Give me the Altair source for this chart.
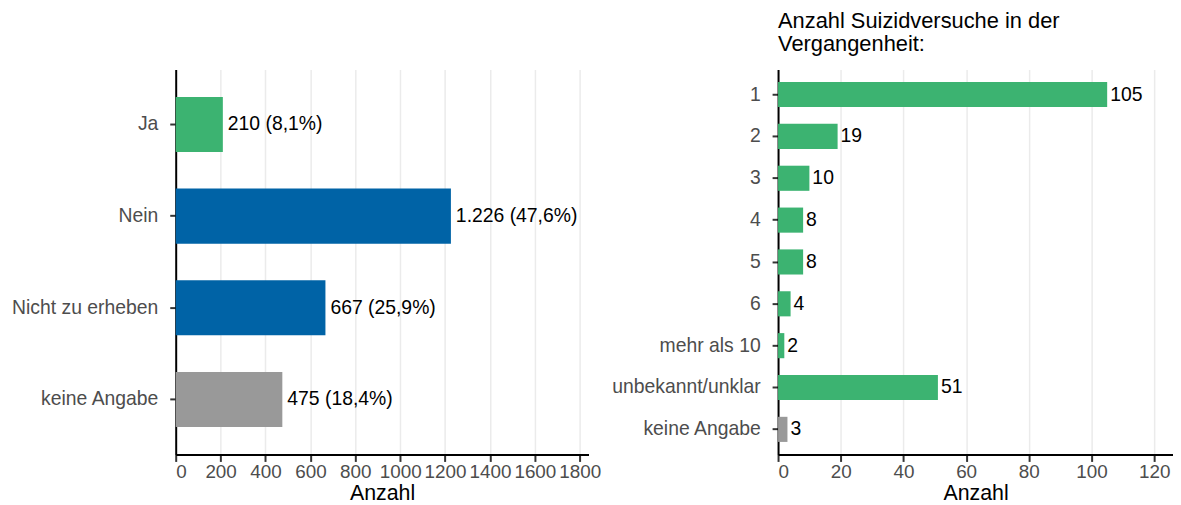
import altair as alt
import pandas as pd

FONT = "Liberation Sans"

left_cats = ["Ja", "Nein", "Nicht zu erheben", "keine Angabe"]
left_vals = [210, 1226, 667, 475]
left_labels = ["210 (8,1%)", "1.226 (47,6%)", "667 (25,9%)", "475 (18,4%)"]
left_groups = ["ja", "nein", "nein", "na"]
left_ticks = [0, 200, 400, 600, 800, 1000, 1200, 1400, 1600, 1800]

right_cats = ["1", "2", "3", "4", "5", "6", "mehr als 10", "unbekannt/unklar", "keine Angabe"]
right_vals = [105, 19, 10, 8, 8, 4, 2, 51, 3]
right_groups = ["ja", "ja", "ja", "ja", "ja", "ja", "ja", "ja", "na"]
right_ticks = [0, 20, 40, 60, 80, 100, 120]

right_title = ["Anzahl Suizidversuche in der", "Vergangenheit:"]

color_scale = alt.Scale(domain=["ja", "nein", "na"], range=["#3CB371", "#0063A6", "#999999"])

df_left = pd.DataFrame({"cat": left_cats, "val": left_vals, "label": left_labels, "grp": left_groups})
df_right = pd.DataFrame({"cat": right_cats, "val": right_vals, "label": [str(v) for v in right_vals], "grp": right_groups})


def panel(df, cats, dmax, ticks, width, dx):
    base = alt.Chart(df).encode(
        y=alt.Y("cat:N", sort=cats,
                scale=alt.Scale(paddingInner=0.4, paddingOuter=0.3),
                axis=alt.Axis(title=None))
    )
    bars = base.mark_bar().encode(
        x=alt.X("val:Q",
                scale=alt.Scale(domain=[0, dmax], nice=False, zero=True),
                axis=alt.Axis(values=ticks, title="Anzahl", grid=True, format="d")),
        color=alt.Color("grp:N", scale=color_scale, legend=None),
    )
    text = base.mark_text(align="left", baseline="middle", dx=dx, fontSize=19.5,
                          font=FONT, color="black").encode(
        x=alt.X("val:Q"), text=alt.Text("label:N"))
    return (bars + text).properties(width=width, height=388)


left = panel(df_left, left_cats, 1839, left_ticks, 416, 5)
right = panel(df_right, right_cats, 126, right_ticks, 398, 3).properties(
    title=alt.TitleParams(right_title, anchor="start", frame="group", fontSize=22,
                          fontWeight="normal", color="black", font=FONT,
                          lineHeight=23, offset=14)
)

chart = alt.hconcat(left, right, spacing=10).properties(
    padding={"left": 3, "top": 0, "right": 0, "bottom": 0}
).configure_axis(
    domainColor="black", domainWidth=2, tickColor="#333333", tickWidth=2,
    labelColor="#4D4D4D", labelFontSize=19.5, labelFont=FONT,
    titleFont=FONT, titleFontSize=21.5, titleColor="black", titleFontWeight="normal",
    gridColor="#EBEBEB", gridWidth=1.5,
).configure_axisY(
    grid=False, tickSize=6, labelPadding=12,
).configure_axisX(
    tickSize=7, labelPadding=1, titlePadding=1, labelFontSize=19,
).configure_view(stroke=None)

chart.save("out.html", embed_options={"renderer": "svg", "actions": False})
